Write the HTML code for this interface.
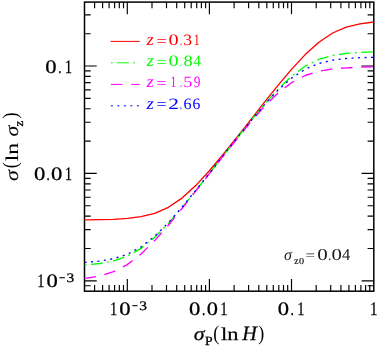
<!DOCTYPE html><html><head><meta charset="utf-8"><style>html,body{margin:0;padding:0;background:#fff}svg{display:block;will-change:transform}text{text-rendering:geometricPrecision}text{font-family:"Liberation Serif",serif}</style></head><body>
<svg width="392" height="347" viewBox="0 0 392 347">
<rect width="392" height="347" fill="#fff"/>
<path d="M94.6 291.2v-6.2M94.6 2.1v6.2M102.6 291.2v-6.2M102.6 2.1v6.2M109.1 291.2v-6.2M109.1 2.1v6.2M114.6 291.2v-6.2M114.6 2.1v6.2M119.3 291.2v-6.2M119.3 2.1v6.2M123.5 291.2v-6.2M123.5 2.1v6.2M84.5 285.7h6.2M373.8 285.7h-6.2M127.3 291.2v-12.2M127.3 2.1v12.2M84.5 280.8h12.2M373.8 280.8h-12.2M152.0 291.2v-6.2M152.0 2.1v6.2M84.5 248.5h6.2M373.8 248.5h-6.2M166.5 291.2v-6.2M166.5 2.1v6.2M84.5 229.6h6.2M373.8 229.6h-6.2M176.7 291.2v-6.2M176.7 2.1v6.2M84.5 216.1h6.2M373.8 216.1h-6.2M184.7 291.2v-6.2M184.7 2.1v6.2M84.5 205.7h6.2M373.8 205.7h-6.2M191.2 291.2v-6.2M191.2 2.1v6.2M84.5 197.2h6.2M373.8 197.2h-6.2M196.7 291.2v-6.2M196.7 2.1v6.2M84.5 190.0h6.2M373.8 190.0h-6.2M201.4 291.2v-6.2M201.4 2.1v6.2M84.5 183.8h6.2M373.8 183.8h-6.2M205.6 291.2v-6.2M205.6 2.1v6.2M84.5 178.3h6.2M373.8 178.3h-6.2M209.4 291.2v-12.2M209.4 2.1v12.2M84.5 173.4h12.2M373.8 173.4h-12.2M234.1 291.2v-6.2M234.1 2.1v6.2M84.5 141.1h6.2M373.8 141.1h-6.2M248.6 291.2v-6.2M248.6 2.1v6.2M84.5 122.2h6.2M373.8 122.2h-6.2M258.8 291.2v-6.2M258.8 2.1v6.2M84.5 108.7h6.2M373.8 108.7h-6.2M266.8 291.2v-6.2M266.8 2.1v6.2M84.5 98.3h6.2M373.8 98.3h-6.2M273.3 291.2v-6.2M273.3 2.1v6.2M84.5 89.8h6.2M373.8 89.8h-6.2M278.8 291.2v-6.2M278.8 2.1v6.2M84.5 82.6h6.2M373.8 82.6h-6.2M283.5 291.2v-6.2M283.5 2.1v6.2M84.5 76.4h6.2M373.8 76.4h-6.2M287.7 291.2v-6.2M287.7 2.1v6.2M84.5 70.9h6.2M373.8 70.9h-6.2M291.5 291.2v-12.2M291.5 2.1v12.2M84.5 66.0h12.2M373.8 66.0h-12.2M316.2 291.2v-6.2M316.2 2.1v6.2M84.5 33.7h6.2M373.8 33.7h-6.2M330.7 291.2v-6.2M330.7 2.1v6.2M84.5 14.8h6.2M373.8 14.8h-6.2M340.9 291.2v-6.2M340.9 2.1v6.2M348.9 291.2v-6.2M348.9 2.1v6.2M355.4 291.2v-6.2M355.4 2.1v6.2M360.9 291.2v-6.2M360.9 2.1v6.2M365.6 291.2v-6.2M365.6 2.1v6.2M369.8 291.2v-6.2M369.8 2.1v6.2" fill="none" stroke="#000" stroke-width="1.15"/>
<rect x="84.5" y="2.1" width="289.3" height="289.1" fill="none" stroke="#000" stroke-width="1.5"/>
<path d="M84.5 219.9 L86.3 219.9 L99.9 219.7 L113.6 219.3 L127.3 218.4 L141.0 216.6 L154.7 213.3 L168.4 207.3 L182.0 198.1 L195.7 185.6 L209.4 170.8 L223.1 154.5 L236.8 137.4 L250.5 120.1 L264.1 102.7 L277.8 85.7 L291.5 69.4 L305.2 54.6 L318.9 42.2 L332.6 33.0 L346.2 27.1 L359.9 23.8 L373.6 22.0" fill="none" stroke-linejoin="round" stroke="#ff0000" stroke-width="1.35"/>
<path d="M84.5 264.9 L86.3 264.8 L99.9 263.5 L113.6 260.9 L127.3 256.2 L141.0 248.4 L154.7 237.3 L168.4 223.4 L182.0 207.6 L195.7 190.8 L209.4 173.5 L223.1 155.9 L236.8 138.4 L250.5 121.2 L264.1 104.7 L277.8 89.4 L291.5 76.2 L305.2 66.2 L318.9 59.4 L332.6 55.5 L346.2 53.4 L359.9 52.4 L373.6 51.9" fill="none" stroke-linejoin="round" stroke="#00ff00" stroke-width="1.35" stroke-dasharray="11.6 4.45 1.8 4.5" stroke-dashoffset="15.8"/>
<path d="M84.5 278.4 L86.3 278.2 L99.9 275.9 L113.6 271.7 L127.3 264.6 L141.0 254.1 L154.7 240.6 L168.4 225.2 L182.0 208.5 L195.7 191.2 L209.4 173.7 L223.1 156.2 L236.8 139.0 L250.5 122.3 L264.1 106.7 L277.8 93.2 L291.5 82.7 L305.2 75.5 L318.9 71.2 L332.6 68.9 L346.2 67.8 L359.9 67.2 L373.6 66.9" fill="none" stroke-linejoin="round" stroke="#ff00ff" stroke-width="1.35" stroke-dasharray="11.6 8.6" stroke-dashoffset="0.0"/>
<path d="M84.5 262.4 L86.3 262.3 L99.9 261.1 L113.6 258.7 L127.3 254.3 L141.0 247.0 L154.7 236.3 L168.4 222.7 L182.0 207.2 L195.7 190.4 L209.4 173.2 L223.1 155.7 L236.8 138.3 L250.5 121.3 L264.1 105.1 L277.8 90.4 L291.5 78.1 L305.2 69.2 L318.9 63.4 L332.6 60.2 L346.2 58.5 L359.9 57.7 L373.6 57.3" fill="none" stroke-linejoin="round" stroke="#0000ff" stroke-width="1.35" stroke-dasharray="2 4.49" stroke-dashoffset="0.0"/>
<path d="M110.6 41.4H139.8" fill="none" stroke="#ff0000" stroke-width="1"/>
<text x="146.51" y="45.1" font-size="17.0" fill="#ff0000" font-style="italic" textLength="7.34" lengthAdjust="spacingAndGlyphs">z</text>
<text x="156.40" y="45.7" font-size="15.5" fill="#ff0000" textLength="10.18" lengthAdjust="spacingAndGlyphs">=</text>
<text x="168.43" y="45.1" font-size="15.8" fill="#ff0000" textLength="10.15" lengthAdjust="spacingAndGlyphs">0</text>
<text x="180.04" y="45.1" font-size="15.8" fill="#ff0000" textLength="2.12" lengthAdjust="spacingAndGlyphs">.</text>
<text x="183.35" y="45.1" font-size="15.8" fill="#ff0000" textLength="8.84" lengthAdjust="spacingAndGlyphs">3</text>
<text x="193.75" y="45.1" font-size="15.8" fill="#ff0000" textLength="5.97" lengthAdjust="spacingAndGlyphs">1</text>
<path d="M110.9 62.8H136.0" fill="none" stroke="#00ff00" stroke-width="1" stroke-dasharray="1.8 4.3 11.8 4.3"/>
<text x="146.51" y="66.1" font-size="17.0" fill="#00ff00" font-style="italic" textLength="7.34" lengthAdjust="spacingAndGlyphs">z</text>
<text x="156.40" y="66.7" font-size="15.5" fill="#00ff00" textLength="10.18" lengthAdjust="spacingAndGlyphs">=</text>
<text x="168.43" y="66.1" font-size="15.8" fill="#00ff00" textLength="10.15" lengthAdjust="spacingAndGlyphs">0</text>
<text x="180.04" y="66.1" font-size="15.8" fill="#00ff00" textLength="2.12" lengthAdjust="spacingAndGlyphs">.</text>
<text x="183.50" y="66.1" font-size="15.8" fill="#00ff00" textLength="9.20" lengthAdjust="spacingAndGlyphs">8</text>
<text x="193.41" y="66.1" font-size="15.8" fill="#00ff00" textLength="7.42" lengthAdjust="spacingAndGlyphs">4</text>
<path d="M110.9 84.4H139.8" fill="none" stroke="#ff00ff" stroke-width="1" stroke-dasharray="11.6 8.7"/>
<text x="146.51" y="87.3" font-size="17.0" fill="#ff00ff" font-style="italic" textLength="7.34" lengthAdjust="spacingAndGlyphs">z</text>
<text x="156.40" y="87.9" font-size="15.5" fill="#ff00ff" textLength="10.18" lengthAdjust="spacingAndGlyphs">=</text>
<text x="170.58" y="87.3" font-size="15.8" fill="#ff00ff" textLength="5.82" lengthAdjust="spacingAndGlyphs">1</text>
<text x="180.04" y="87.3" font-size="15.8" fill="#ff00ff" textLength="2.12" lengthAdjust="spacingAndGlyphs">.</text>
<text x="183.15" y="87.3" font-size="15.8" fill="#ff00ff" textLength="9.06" lengthAdjust="spacingAndGlyphs">5</text>
<text x="193.77" y="87.3" font-size="15.8" fill="#ff00ff" textLength="6.68" lengthAdjust="spacingAndGlyphs">9</text>
<path d="M110.9 105.8H139.8" fill="none" stroke="#0000ff" stroke-width="1" stroke-dasharray="2 4.5"/>
<text x="146.51" y="108.5" font-size="17.0" fill="#0000ff" font-style="italic" textLength="7.34" lengthAdjust="spacingAndGlyphs">z</text>
<text x="156.40" y="109.1" font-size="15.5" fill="#0000ff" textLength="10.18" lengthAdjust="spacingAndGlyphs">=</text>
<text x="168.26" y="108.5" font-size="15.8" fill="#0000ff" textLength="10.73" lengthAdjust="spacingAndGlyphs">2</text>
<text x="179.74" y="108.5" font-size="15.8" fill="#0000ff" textLength="2.12" lengthAdjust="spacingAndGlyphs">.</text>
<text x="183.51" y="108.5" font-size="15.8" fill="#0000ff" textLength="8.07" lengthAdjust="spacingAndGlyphs">6</text>
<text x="192.53" y="108.5" font-size="15.8" fill="#0000ff" textLength="7.84" lengthAdjust="spacingAndGlyphs">6</text>
<text x="189.14" y="314.5" font-size="19.0" fill="#000" stroke="#000" stroke-width="0.25" textLength="11.33" lengthAdjust="spacingAndGlyphs">0</text>
<text x="201.91" y="314.5" font-size="19.0" fill="#000" stroke="#000" stroke-width="0.25" textLength="3.39" lengthAdjust="spacingAndGlyphs">.</text>
<text x="206.75" y="314.5" font-size="19.0" fill="#000" stroke="#000" stroke-width="0.25" textLength="11.21" lengthAdjust="spacingAndGlyphs">0</text>
<text x="220.23" y="314.5" font-size="19.0" fill="#000" stroke="#000" stroke-width="0.25" textLength="7.24" lengthAdjust="spacingAndGlyphs">1</text>
<text x="277.74" y="314.5" font-size="19.0" fill="#000" stroke="#000" stroke-width="0.25" textLength="11.33" lengthAdjust="spacingAndGlyphs">0</text>
<text x="290.41" y="314.5" font-size="19.0" fill="#000" stroke="#000" stroke-width="0.25" textLength="3.39" lengthAdjust="spacingAndGlyphs">.</text>
<text x="297.33" y="314.5" font-size="19.0" fill="#000" stroke="#000" stroke-width="0.25" textLength="7.24" lengthAdjust="spacingAndGlyphs">1</text>
<text x="370.08" y="314.5" font-size="19.0" fill="#000" stroke="#000" stroke-width="0.25" textLength="7.53" lengthAdjust="spacingAndGlyphs">1</text>
<text x="110.03" y="314.5" font-size="19.0" fill="#000" stroke="#000" stroke-width="0.25" textLength="7.24" lengthAdjust="spacingAndGlyphs">1</text>
<text x="119.34" y="314.5" font-size="19.0" fill="#000" stroke="#000" stroke-width="0.25" textLength="11.33" lengthAdjust="spacingAndGlyphs">0</text>
<text x="132.08" y="309.7" font-size="13.0" fill="#000" stroke="#000" stroke-width="0.30" textLength="5.94" lengthAdjust="spacingAndGlyphs">−</text>
<text x="139.26" y="309.7" font-size="13.0" fill="#000" stroke="#000" stroke-width="0.30" textLength="7.75" lengthAdjust="spacingAndGlyphs">3</text>
<text x="33.94" y="179.9" font-size="19.0" fill="#000" stroke="#000" stroke-width="0.25" textLength="11.33" lengthAdjust="spacingAndGlyphs">0</text>
<text x="46.46" y="179.9" font-size="19.0" fill="#000" stroke="#000" stroke-width="0.25" textLength="3.17" lengthAdjust="spacingAndGlyphs">.</text>
<text x="51.14" y="179.9" font-size="19.0" fill="#000" stroke="#000" stroke-width="0.25" textLength="11.33" lengthAdjust="spacingAndGlyphs">0</text>
<text x="64.70" y="179.9" font-size="19.0" fill="#000" stroke="#000" stroke-width="0.25" textLength="7.39" lengthAdjust="spacingAndGlyphs">1</text>
<text x="45.34" y="72.5" font-size="19.0" fill="#000" stroke="#000" stroke-width="0.25" textLength="11.33" lengthAdjust="spacingAndGlyphs">0</text>
<text x="58.16" y="72.5" font-size="19.0" fill="#000" stroke="#000" stroke-width="0.25" textLength="3.17" lengthAdjust="spacingAndGlyphs">.</text>
<text x="64.70" y="72.5" font-size="19.0" fill="#000" stroke="#000" stroke-width="0.25" textLength="7.39" lengthAdjust="spacingAndGlyphs">1</text>
<text x="37.33" y="287.1" font-size="19.0" fill="#000" stroke="#000" stroke-width="0.25" textLength="7.24" lengthAdjust="spacingAndGlyphs">1</text>
<text x="46.64" y="287.1" font-size="19.0" fill="#000" stroke="#000" stroke-width="0.25" textLength="11.33" lengthAdjust="spacingAndGlyphs">0</text>
<text x="59.04" y="282.3" font-size="13.0" fill="#000" stroke="#000" stroke-width="0.30" textLength="6.30" lengthAdjust="spacingAndGlyphs">−</text>
<text x="66.56" y="282.3" font-size="13.0" fill="#000" stroke="#000" stroke-width="0.30" textLength="7.75" lengthAdjust="spacingAndGlyphs">3</text>
<text x="193.8" y="340.0" font-size="19.0" fill="#000" font-style="italic" stroke="#000" stroke-width="0.25" textLength="10.8" lengthAdjust="spacingAndGlyphs">σ</text>
<text x="205.0" y="345.0" font-size="12.5" fill="#000" stroke="#000" stroke-width="0.30" textLength="7.6" lengthAdjust="spacingAndGlyphs">P</text>
<text x="213.3" y="339.5" font-size="21.0" fill="#000" textLength="6.0" lengthAdjust="spacingAndGlyphs">(</text>
<text x="221.0" y="340.0" font-size="18.0" fill="#000" stroke="#000" stroke-width="0.25" textLength="17.5" lengthAdjust="spacingAndGlyphs">ln</text>
<text x="242.3" y="340.0" font-size="20.5" fill="#000" font-style="italic" stroke="#000" stroke-width="0.25" textLength="14.6" lengthAdjust="spacingAndGlyphs">H</text>
<text x="258.3" y="339.5" font-size="21.0" fill="#000" textLength="6.0" lengthAdjust="spacingAndGlyphs">)</text>
<g transform="translate(17.8 180) rotate(-90)">
<text x="-1.0" y="0.0" font-size="19.0" fill="#000" font-style="italic" stroke="#000" stroke-width="0.10" textLength="10.8" lengthAdjust="spacingAndGlyphs">σ</text>
<text x="11.7" y="-0.5" font-size="21.0" fill="#000" textLength="6.0" lengthAdjust="spacingAndGlyphs">(</text>
<text x="18.7" y="0.0" font-size="18.0" fill="#000" stroke="#000" stroke-width="0.10" textLength="18.5" lengthAdjust="spacingAndGlyphs">ln</text>
<text x="43.6" y="0.0" font-size="19.0" fill="#000" font-style="italic" stroke="#000" stroke-width="0.10" textLength="10.8" lengthAdjust="spacingAndGlyphs">σ</text>
<text x="53.4" y="5.5" font-size="12.5" fill="#000" stroke="#000" stroke-width="0.30" textLength="5.8" lengthAdjust="spacingAndGlyphs">z</text>
<text x="61.5" y="-0.5" font-size="21.0" fill="#000" textLength="6.0" lengthAdjust="spacingAndGlyphs">)</text>
</g>
<text x="284.12" y="260.0" font-size="16.2" fill="#1a1a1a" font-style="italic" textLength="7.87" lengthAdjust="spacingAndGlyphs">σ</text>
<text x="294.14" y="264.0" font-size="10.0" fill="#1a1a1a" stroke="#1a1a1a" stroke-width="0.20" textLength="4.22" lengthAdjust="spacingAndGlyphs">z</text>
<text x="298.91" y="264.0" font-size="9.0" fill="#1a1a1a" stroke="#1a1a1a" stroke-width="0.20" textLength="5.07" lengthAdjust="spacingAndGlyphs">0</text>
<text x="305.47" y="259.9" font-size="14.0" fill="#1a1a1a" textLength="9.45" lengthAdjust="spacingAndGlyphs">=</text>
<text x="317.20" y="260.0" font-size="16.7" fill="#1a1a1a" textLength="10.50" lengthAdjust="spacingAndGlyphs">0</text>
<text x="328.53" y="260.0" font-size="16.7" fill="#1a1a1a" textLength="2.54" lengthAdjust="spacingAndGlyphs">.</text>
<text x="331.41" y="260.0" font-size="16.7" fill="#1a1a1a" textLength="10.38" lengthAdjust="spacingAndGlyphs">0</text>
<text x="341.88" y="260.0" font-size="16.7" fill="#1a1a1a" textLength="8.28" lengthAdjust="spacingAndGlyphs">4</text>
</svg></body></html>
